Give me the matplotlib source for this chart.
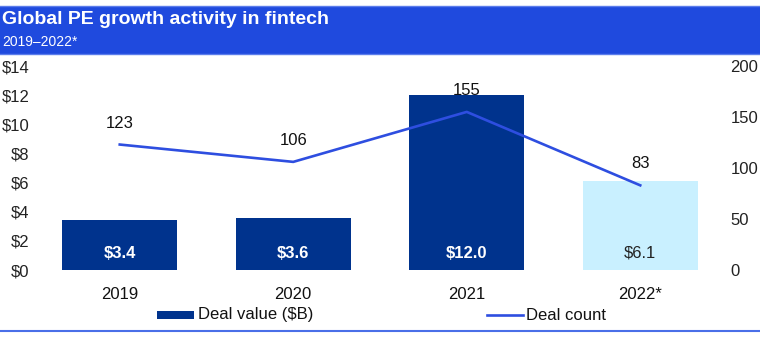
import matplotlib.pyplot as plt
from matplotlib.patches import Rectangle
from matplotlib.lines import Line2D

plt.rcParams['font.family'] = ['Liberation Sans', 'DejaVu Sans']

# data
years = ['2019', '2020', '2021', '2022*']
deal_value = [3.4, 3.6, 12.0, 6.1]
deal_count = [123, 106, 155, 83]
left_ticks = [0, 2, 4, 6, 8, 10, 12, 14]
right_ticks = [0, 50, 100, 150, 200]

navy = '#00338D'
light = '#C9F0FF'
line_blue = '#2E4EE0'
banner = '#1F4ADE'

W, H = 760, 363
fig = plt.figure(figsize=(W / 100, H / 100), dpi=100)

# header banner
fig.patches.append(Rectangle((0, 1 - 54 / H), 1, 48 / H, transform=fig.transFigure,
                             facecolor=banner, edgecolor='none'))
fig.lines.append(Line2D([0, 1], [1 - 6 / H] * 2, transform=fig.transFigure, color='#5B7CEB', lw=1))
fig.lines.append(Line2D([0, 1], [1 - 54 / H] * 2, transform=fig.transFigure, color='#5B7CEB', lw=1))
fig.text(2 / W, 1 - 19 / H, 'Global PE growth activity in fintech', color='white',
         fontsize=14, fontweight='bold', va='center', ha='left')
fig.text(2 / W, 1 - 42 / H, '2019\u20132022*', color='white', fontsize=10,
         va='center', ha='left')

ax = fig.add_axes([33 / W, 1 - 270 / H, 694 / W, 204 / H])
ax2 = ax.twinx()

x = list(range(len(years)))
colors = [navy, navy, navy, light]
ax.bar(x, deal_value, width=0.665, color=colors, zorder=1)
for xi, v, c in zip(x, deal_value, colors):
    ax.text(xi, 1.15, f'${v:.1f}', ha='center', va='center', fontsize=12,
            color='white' if c == navy else '#222222',
            fontweight='bold' if c == navy else 'normal')

ax2.plot(x, deal_count, color=line_blue, lw=1.9, zorder=3)
for xi, v in zip(x, deal_count):
    ax2.annotate(str(v), (xi, v), xytext=(0, 15.5), textcoords='offset points',
                 ha='center', va='center', fontsize=12, color='#111111')

ax.set_xlim(-0.5, 3.5)
ax.set_ylim(0, 14)
ax2.set_ylim(0, 200)
ax.set_yticks(left_ticks)
ax.set_yticklabels([f'${t}' for t in left_ticks])
ax2.set_yticks(right_ticks)
ax2.set_yticklabels([str(t) for t in right_ticks])
ax.set_xticks(x)
ax.set_xticklabels(years)
ax.tick_params(axis='y', length=0, pad=2.5, labelsize=12, labelcolor='#222222')
ax2.tick_params(axis='y', length=0, pad=2.5, labelsize=12, labelcolor='#222222')
ax.tick_params(axis='x', length=0, pad=12, labelsize=12, labelcolor='#111111')
for a in (ax, ax2):
    for s in a.spines.values():
        s.set_visible(False)
ax.set_zorder(1)
ax2.set_zorder(2)
ax.patch.set_visible(False)

# legend
fig.patches.append(Rectangle((157 / W, 1 - 319 / H), 37 / W, 8 / H, transform=fig.transFigure,
                             facecolor=navy, edgecolor='none'))
fig.text(198 / W, 1 - 315 / H, 'Deal value ($B)', fontsize=12, va='center', ha='left', color='#111111')
fig.lines.append(Line2D([487 / W, 523 / W], [1 - 315 / H] * 2, transform=fig.transFigure,
                        color=line_blue, lw=1.9))
fig.text(526 / W, 1 - 315 / H, 'Deal count', fontsize=12, va='center', ha='left', color='#111111')

# bottom rule
fig.lines.append(Line2D([0, 1], [1 - 331 / H] * 2, transform=fig.transFigure, color='#4A6FE8', lw=1.5))

fig.savefig('out.png', dpi=100)
